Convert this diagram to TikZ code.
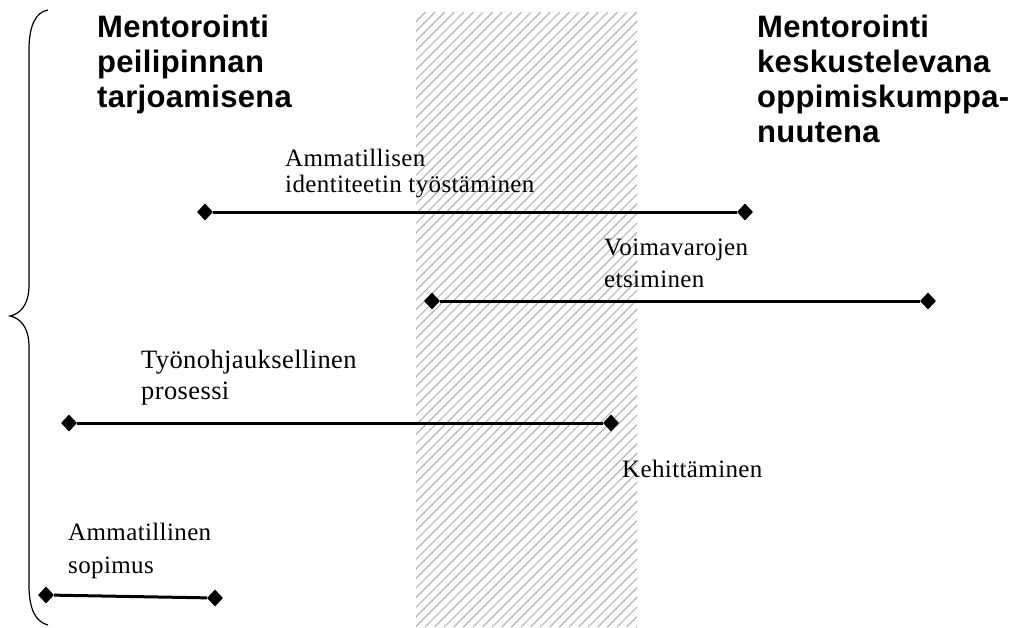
\documentclass[tikz,border=0pt]{standalone}
\usepackage{fontspec}
\setmainfont{Liberation Serif}
\newfontfamily\lblfont{Liberation Serif}[LetterSpace=1.5]
\newfontfamily\headfont{Liberation Sans}[LetterSpace=1]
\usetikzlibrary{shapes.geometric}
\begin{document}
\begin{tikzpicture}[x=1pt,y=-1pt,
  lbl/.style={anchor=base west,inner sep=0pt,font=\lblfont\fontsize{25}{29}\selectfont},
  biglbl/.style={lbl,font=\lblfont\fontsize{26.5}{30}\selectfont},
  head/.style={anchor=base west,inner sep=0pt,font=\headfont\bfseries\fontsize{31}{35}\selectfont},
  endpt/.style={diamond,fill=black,inner sep=0pt,minimum width=16pt,minimum height=17pt},
  bar/.style={line width=3pt},
  hatch/.style={gray!65,line width=1pt},
  bracestyle/.style={line width=1.2pt}]
\useasboundingbox (0,0) rectangle (1015,627);
% hatched band
\begin{scope}
  \clip (416,12) rectangle (637,627);
  \foreach \i in {0,...,90} \draw[hatch] ({-199+\i*9.6},627) -- ++(615,-615);
\end{scope}
% brace
\draw[bracestyle] (48,10) .. controls (36,12) and (29,25) .. (29,50) -- (29,285)
  .. controls (29,305) and (20,314) .. (10,316)
  .. controls (20,318) and (29,327) .. (29,347) -- (29,585)
  .. controls (29,610) and (36,622) .. (48,625);
% headings
\node[head] (hl1) at (97,37) {Mentorointi};
\node[head] (hl2) at (97,72) {peilipinnan};
\node[head] (hl3) at (97,107) {tarjoamisena};
\node[head] (hr1) at (757,37) {Mentorointi};
\node[head] (hr2) at (757,72) {keskustelevana};
\node[head] (hr3) at (757,107) {oppimiskumppa-};
\node[head] (hr4) at (757,142) {nuutena};
% bars
\node[endpt] (a1) at (205,212) {};
\node[endpt] (a2) at (745,212) {};
\draw[bar] (a1) -- (a2);
\node[endpt] (b1) at (432,301) {};
\node[endpt] (b2) at (928,301) {};
\draw[bar] (b1) -- (b2);
\node[endpt] (c1) at (69,423) {};
\node[endpt] (c2) at (611,423) {};
\draw[bar] (c1) -- (c2);
\node[endpt] (d1) at (46,595) {};
\node[endpt] (d2) at (215,598) {};
\draw[bar] (d1) -- (d2);
% labels
\node[lbl] (la1) at (285,166) {Ammatillisen};
\node[lbl] (la2) at (285,192) {identiteetin työstäminen};
\node[lbl] (lb1) at (604,255) {Voimavarojen};
\node[lbl] (lb2) at (604,287) {etsiminen};
\node[biglbl] (lc1) at (141,368) {Työnohjauksellinen};
\node[biglbl] (lc2) at (141,399) {prosessi};
\node[lbl] (lk) at (622,477) {Kehittäminen};
\node[lbl] (ld1) at (68,540) {Ammatillinen};
\node[lbl] (ld2) at (68,573) {sopimus};
\end{tikzpicture}
\end{document}
